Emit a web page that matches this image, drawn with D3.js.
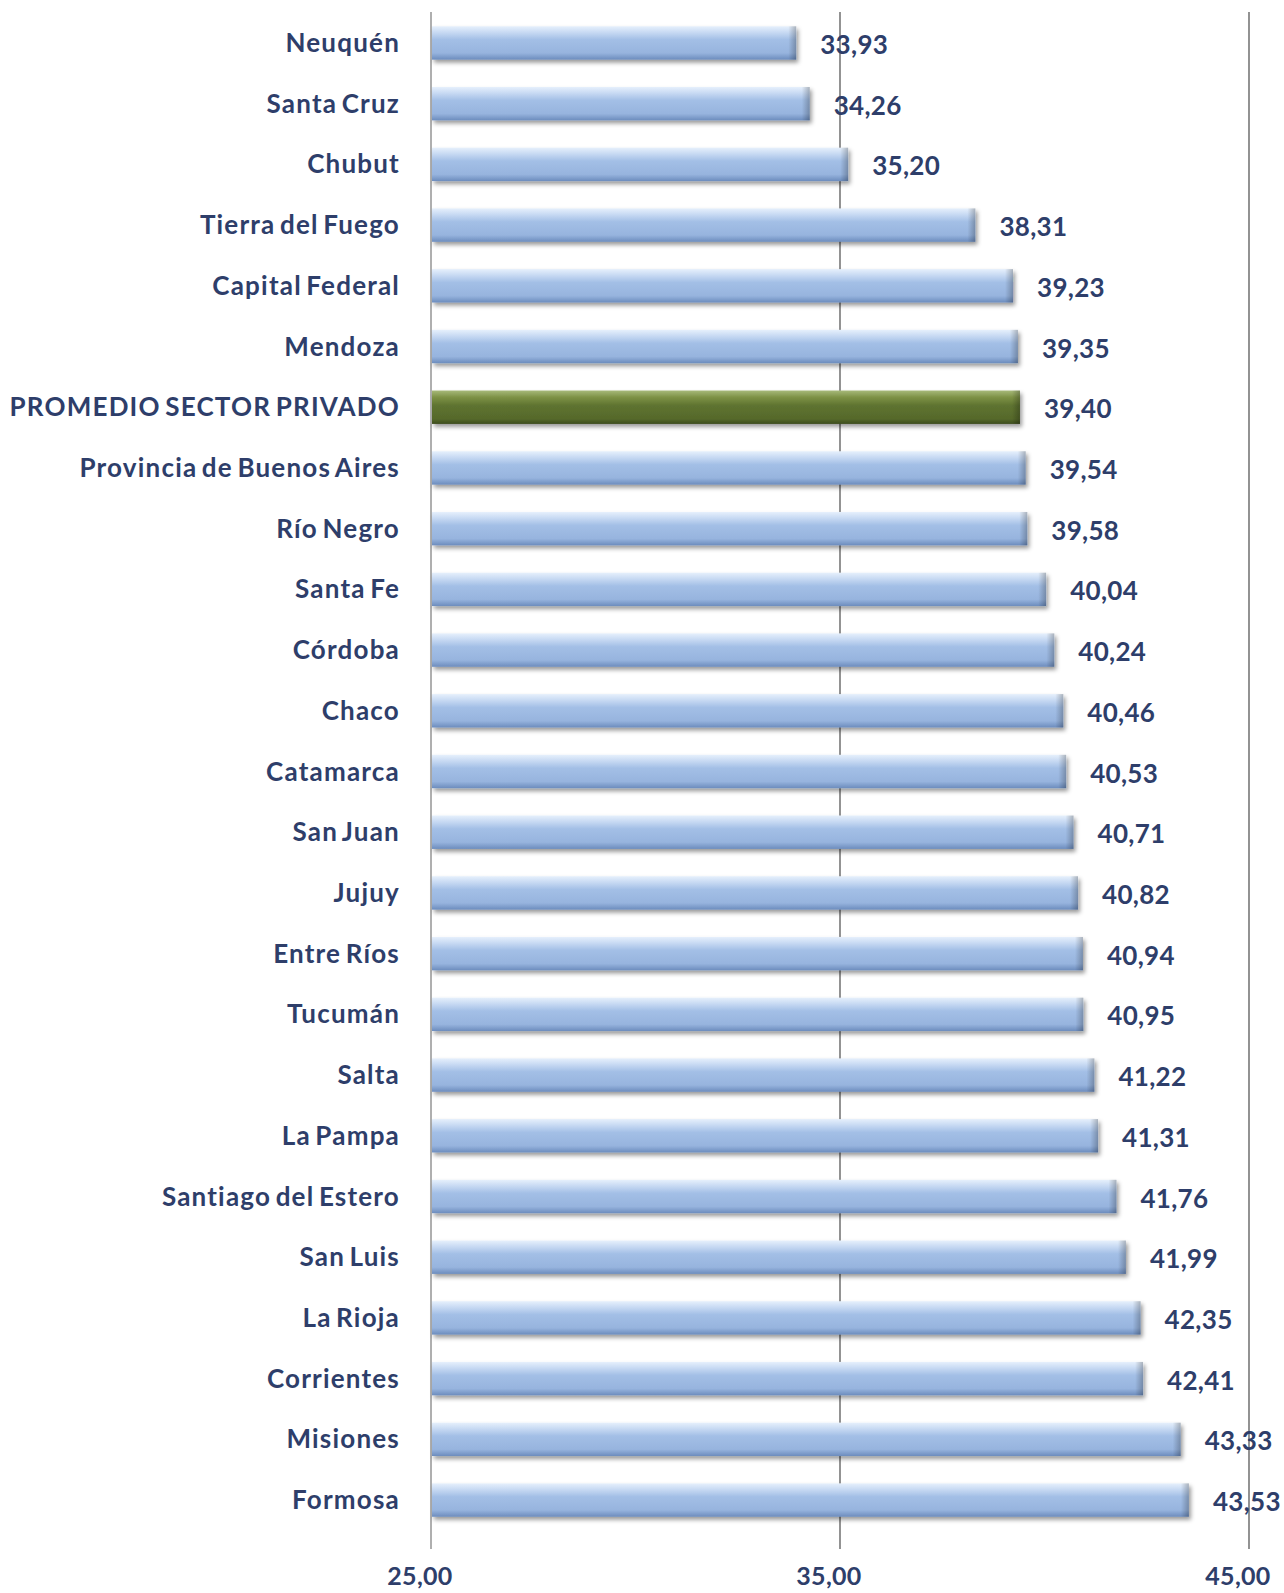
<!DOCTYPE html>
<html>
<head>
<meta charset="utf-8">
<script src="https://cdn.jsdelivr.net/npm/d3@7"></script>
<style>
  body { margin: 0; background: #fff; }
  svg text { font-family: Lato, "Open Sans", sans-serif; font-weight: 700; fill: #2e3e6a; }
</style>
</head>
<body>
<svg id="canvas"></svg>
<script>
let width = 1284,
height = 1593

// provincias, de menor a mayor
let provincias = ['Neuquén', 'Santa Cruz', 'Chubut', 'Tierra del Fuego', 'Capital Federal', 'Mendoza',
    'PROMEDIO SECTOR PRIVADO', 'Provincia de Buenos Aires', 'Río Negro', 'Santa Fe', 'Córdoba', 'Chaco',
    'Catamarca', 'San Juan', 'Jujuy', 'Entre Ríos', 'Tucumán', 'Salta', 'La Pampa', 'Santiago del Estero',
    'San Luis', 'La Rioja', 'Corrientes', 'Misiones', 'Formosa']
let valores = [33.93, 34.26, 35.20, 38.31, 39.23, 39.35, 39.40, 39.54, 39.58, 40.04, 40.24, 40.46,
    40.53, 40.71, 40.82, 40.94, 40.95, 41.22, 41.31, 41.76, 41.99, 42.35, 42.41, 43.33, 43.53]
let promedio = 'PROMEDIO SECTOR PRIVADO'
let ticks = [25, 35, 45]

let data = provincias.map((p, i) => ({ name: p, value: valores[i] }))

let locale = d3.formatLocale({ decimal: ',', thousands: '.', grouping: [3], currency: ['$', ''] })
let fmt = locale.format('.2f')

let canvas = d3.select('#canvas')
.attr('width', width)
.attr('height', height)

let x = d3.scaleLinear().domain([25, 45]).range([431, 1249])
let y = d3.scaleBand().domain(provincias).range([12.6, 1530.4]).paddingInner(0.45).paddingOuter(0.225)

let defs = canvas.append('defs')

let grad = (id, stops) => {
    let g = defs.append('linearGradient').attr('id', id)
    .attr('x1', 0).attr('y1', 0).attr('x2', 0).attr('y2', 1)
    stops.forEach(s => g.append('stop').attr('offset', s[0]).attr('stop-color', s[1]))
}
grad('azul', [[0, '#e6f0fc'], [0.18, '#c8daf3'], [0.4, '#a3bfe6'], [0.8, '#97b4de'], [1, '#6c8cbd']])
grad('verde', [[0, '#a7b97a'], [0.2, '#7e9246'], [0.45, '#5e7330'], [0.85, '#56692b'], [1, '#3c4c1c']])

let endGrad = defs.append('linearGradient').attr('id', 'punta')
.attr('x1', 0).attr('y1', 0).attr('x2', 1).attr('y2', 0)
endGrad.append('stop').attr('offset', 0).attr('stop-color', '#000').attr('stop-opacity', 0)
endGrad.append('stop').attr('offset', 1).attr('stop-color', '#000').attr('stop-opacity', 0.25)

defs.append('filter').attr('id', 'sombra')
.attr('x', '-5%').attr('y', '-30%').attr('width', '110%').attr('height', '180%')
.append('feDropShadow')
.attr('dx', 2).attr('dy', 3).attr('stdDeviation', 2.2)
.attr('flood-color', '#000').attr('flood-opacity', 0.4)

// lineas verticales
canvas.selectAll('line.grid')
.data(ticks)
.join('line')
.attr('class', 'grid')
.attr('x1', d => x(d)).attr('x2', d => x(d))
.attr('y1', 12).attr('y2', 1549)
.attr('stroke', (d, i) => i == 0 ? '#7a7a7a' : '#4a4a4a')
.attr('stroke-width', 1.2)

// barras
let barras = canvas.selectAll('g.barra')
.data(data)
.join('g')
.attr('class', 'barra')

barras.append('rect')
.attr('x', x(25) + 1)
.attr('y', d => y(d.name))
.attr('width', d => x(d.value) - x(25) - 1)
.attr('height', y.bandwidth())
.attr('fill', d => d.name === promedio ? 'url(#verde)' : 'url(#azul)')
.attr('filter', 'url(#sombra)')

barras.append('rect')
.attr('x', d => x(d.value) - 8)
.attr('y', d => y(d.name))
.attr('width', 8)
.attr('height', y.bandwidth())
.attr('fill', 'url(#punta)')

// etiquetas de categorias
canvas.selectAll('text.cat')
.data(data)
.join('text')
.attr('class', 'cat')
.attr('x', 400)
.attr('y', d => y(d.name) + y.bandwidth() / 2)
.attr('dy', '0.35em')
.attr('text-anchor', 'end')
.style('font-size', '26px')
.style('letter-spacing', '1.2px')
.style('word-spacing', '-3px')
.text(d => d.name)

// valores
canvas.selectAll('text.val')
.data(data)
.join('text')
.attr('class', 'val')
.attr('x', d => x(d.value) + 24)
.attr('y', d => y(d.name) + y.bandwidth() / 2 + 2)
.attr('dy', '0.35em')
.style('font-size', '26px')
.style('letter-spacing', '0.3px')
.text(d => fmt(d.value))

// eje x
canvas.selectAll('text.tick')
.data(ticks)
.join('text')
.attr('class', 'tick')
.attr('x', d => x(d) - 11)
.attr('y', 1576)
.attr('dy', '0.35em')
.attr('text-anchor', 'middle')
.style('font-size', '25px')
.style('letter-spacing', '0.3px')
.text(d => fmt(d))
</script>
</body>
</html>
